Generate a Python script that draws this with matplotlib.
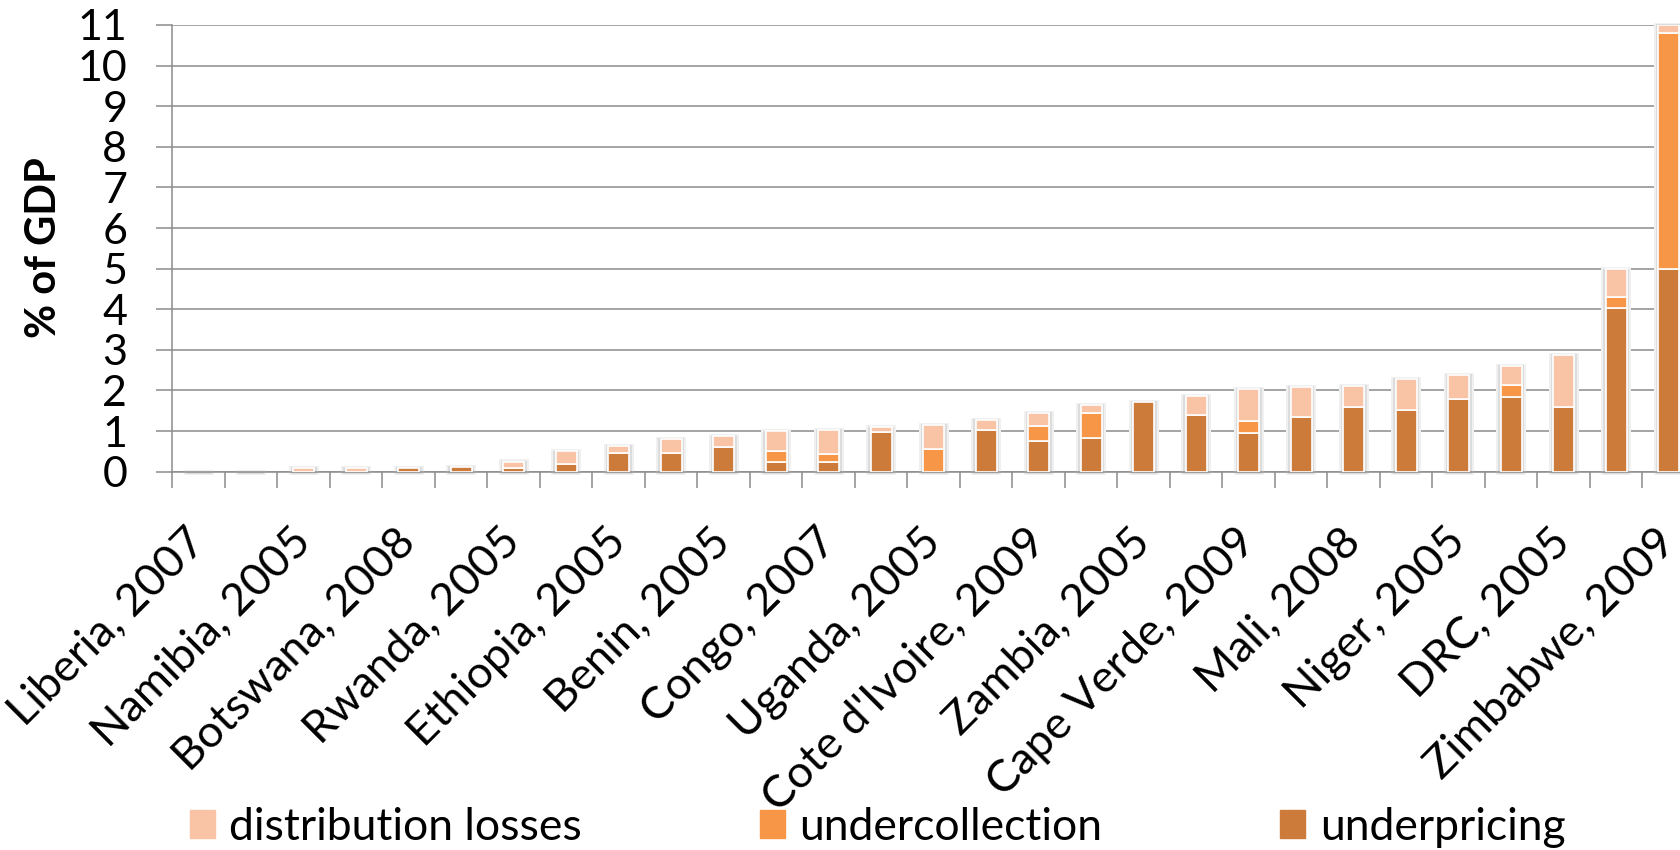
import numpy as np
import matplotlib
matplotlib.use('Agg')
import matplotlib.pyplot as plt
from matplotlib.patches import Patch
from matplotlib.transforms import ScaledTranslation

plt.rcParams['font.family'] = ['Lato', 'DejaVu Sans']

# every other country label is hidden on the axis
labels = ['Liberia, 2007', '', 'Namibia, 2005', '', 'Botswana, 2008', '',
          'Rwanda, 2005', '', 'Ethiopia, 2005', '', 'Benin, 2005', '',
          'Congo, 2007', '', 'Uganda, 2005', '', "Cote d'Ivoire, 2009", '',
          'Zambia, 2005', '', 'Cape Verde, 2009', '', 'Mali, 2008', '',
          'Niger, 2005', '', 'DRC, 2005', '', 'Zimbabwe, 2009']

underpricing = [0, 0, 0, 0, 0.10, 0.12, 0.10, 0.20, 0.45, 0.47, 0.60, 0.23, 0.23, 0.97,
                0, 1.02, 0.76, 0.82, 1.71, 1.40, 0.96, 1.35, 1.60, 1.52, 1.80, 1.85,
                1.60, 4.02, 5.00]
undercollection = [0, 0, 0, 0, 0, 0, 0, 0, 0, 0, 0, 0.27, 0.20, 0,
                   0.55, 0, 0.37, 0.63, 0, 0, 0.29, 0, 0, 0, 0, 0.28,
                   0, 0.29, 5.80]
distribution_losses = [0, 0, 0.10, 0.10, 0, 0, 0.15, 0.30, 0.19, 0.34, 0.27, 0.49, 0.59, 0.12,
                       0.61, 0.26, 0.31, 0.20, 0, 0.47, 0.78, 0.74, 0.52, 0.77, 0.58, 0.48,
                       1.27, 0.67, 0.20]

series = [('underpricing', underpricing, '#CC7B3A'),
          ('undercollection', undercollection, '#F79646'),
          ('distribution losses', distribution_losses, '#F9C3A6')]

x = np.arange(len(labels))
total = np.array(underpricing) + np.array(undercollection) + np.array(distribution_losses)

fig = plt.figure(figsize=(16.81, 8.5), dpi=100)
ax = fig.add_axes([0.1026, 0.4451, 0.9057, 0.5255])

# soft grey glow behind each bar
w = 0.4
ax.bar(x, total + 0.14, bottom=-0.09, width=w + 0.17, color='#f0f0f0', zorder=1.6, clip_on=False)
ax.bar(x, total + 0.08, bottom=-0.06, width=w + 0.09, color='#dcdcdc', zorder=1.7, clip_on=False)

bottom = np.zeros(len(x))
for name, vals, color in series:
    vals = np.array(vals)
    m = vals > 0
    ax.bar(x[m], vals[m], bottom=bottom[m], width=w, color=color,
           edgecolor='white', linewidth=1.2, zorder=3)
    bottom += vals

ax.set_xlim(-0.5, len(labels) - 0.5)
ax.set_ylim(0, 11)
ax.set_yticks(range(0, 12))
ax.yaxis.grid(True, color='#8c8c8c', linewidth=1.1)
ax.set_axisbelow(True)

for s in ['top', 'right']:
    ax.spines[s].set_visible(False)
for s in ['left', 'bottom']:
    ax.spines[s].set_color('#8c8c8c')
    ax.spines[s].set_linewidth(1.1)

# tick marks at category boundaries, labels under the bars
ax.set_xticks(np.arange(-0.5, len(labels), 1))
ax.set_xticklabels([])
ax.tick_params(axis='x', which='major', length=11.5, width=1.1, color='#8c8c8c')
lab_pos = [i for i, l in enumerate(labels) if l]
ax.set_xticks(lab_pos, minor=True)
ax.set_xticklabels([labels[i] for i in lab_pos], minor=True, rotation=45,
                   ha='right', va='top', rotation_mode='anchor', fontsize=32.5)
ax.tick_params(axis='x', which='minor', length=0, pad=35.5)
shift = ScaledTranslation(-0.14, 0, fig.dpi_scale_trans)
for lbl in ax.get_xticklabels(minor=True):
    lbl.set_transform(lbl.get_transform() + shift)

ax.yaxis.set_tick_params(which='major', length=11.5, width=1.1, color='#8c8c8c',
                         labelsize=31, pad=21)

fig.text(44 / 1681, 1 - 248 / 850, '% of GDP', rotation=90, ha='center', va='center',
         fontsize=30, fontweight='bold')

handles = [Patch(color=c, label=n) for n, _, c in series[::-1]]
fig.legend(handles=handles, loc='center', bbox_to_anchor=(0.522, 0.027), ncol=3,
           frameon=False, fontsize=32, handlelength=0.57, handleheight=0.57,
           handletextpad=0.32, columnspacing=4.0, borderaxespad=0)

fig.savefig('out.png', dpi=100)
